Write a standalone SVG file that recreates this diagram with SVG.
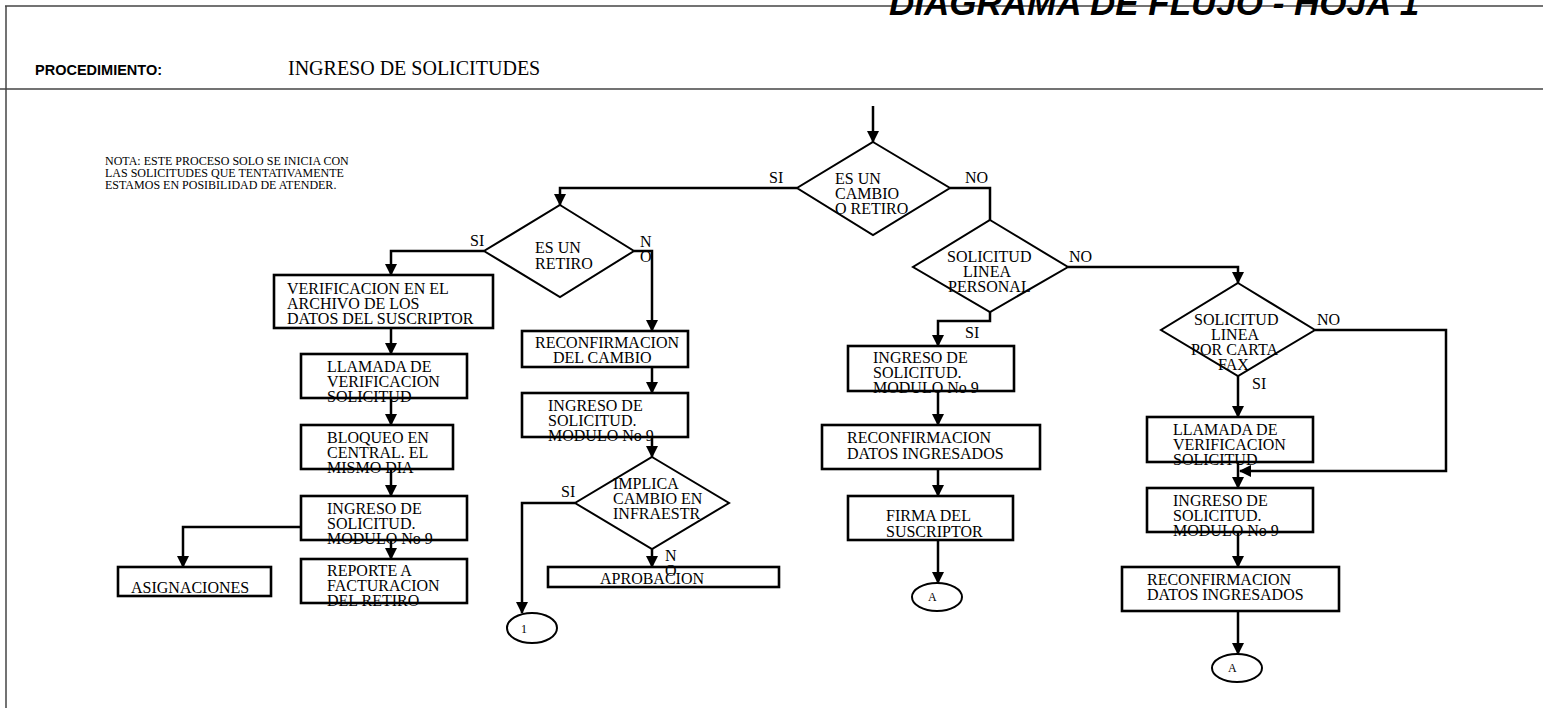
<svg xmlns="http://www.w3.org/2000/svg" width="1543" height="710" viewBox="0 0 1543 710">
  <defs>
    <marker id="arrow" markerUnits="userSpaceOnUse" markerWidth="12" markerHeight="12" viewBox="0 0 12 12" refX="11" refY="6" orient="auto">
      <path d="M0,0 L12,6 L0,12 z" fill="#000"/>
    </marker>
    <style>
      .frame { stroke: #444; stroke-width: 1.5; fill: none; }
      .box { fill: none; stroke: #000; stroke-width: 2.6; }
      .dia { fill: none; stroke: #000; stroke-width: 2; }
      .conn { fill: none; stroke: #000; stroke-width: 2.5; }
      .arr { marker-end: url(#arrow); }
      .t { font-family: "Liberation Serif", "Times New Roman", serif; font-size: 16px; fill: #000; }
      .note { font-family: "Liberation Serif", "Times New Roman", serif; font-size: 12px; fill: #000; }
      .small { font-family: "Liberation Serif", "Times New Roman", serif; font-size: 12px; fill: #000; }
    </style>
  </defs>

  <!-- page frame and header -->
  <g id="header">
    <line class="frame" x1="5" y1="6" x2="1543" y2="6"/>
    <line class="frame" x1="6" y1="6" x2="6" y2="708"/>
    <line class="frame" x1="0" y1="89" x2="1543" y2="89"/>
    <text x="889" y="15" font-family="'Liberation Sans', Arial, sans-serif" font-size="35" font-weight="bold" font-style="italic">DIAGRAMA DE FLUJO - HOJA 1</text>
    <text x="35" y="75" font-family="'Liberation Sans', Arial, sans-serif" font-size="14.5" font-weight="bold">PROCEDIMIENTO:</text>
    <text x="288" y="75" font-family="'Liberation Serif', 'Times New Roman', serif" font-size="20">INGRESO DE SOLICITUDES</text>
  </g>

  <g id="nota">
    <text class="note" x="105" y="165">NOTA: ESTE PROCESO SOLO SE INICIA CON</text>
    <text class="note" x="105" y="177">LAS SOLICITUDES QUE TENTATIVAMENTE</text>
    <text class="note" x="105" y="189">ESTAMOS EN POSIBILIDAD DE ATENDER.</text>
  </g>

  <!-- connectors -->
  <g id="connectors">
    <path class="conn arr" d="M873,106 V142"/>
    <path class="conn arr" d="M797,188 H560 V205"/>
    <path class="conn" d="M950,188 H990 V220"/>
    <path class="conn arr" d="M484,251 H391 V275"/>
    <path class="conn arr" d="M634,251 H652 V331"/>
    <path class="conn arr" d="M391,328 V354"/>
    <path class="conn arr" d="M391,398 V425"/>
    <path class="conn arr" d="M391,469 V496"/>
    <path class="conn arr" d="M301,527 H183 V567"/>
    <path class="conn arr" d="M391,540 V559"/>
    <path class="conn arr" d="M652,367 V393"/>
    <path class="conn arr" d="M652,437 V457"/>
    <path class="conn arr" d="M575,503 H522 V613"/>
    <path class="conn arr" d="M652,549 V567"/>
    <path class="conn arr" d="M1068,267 H1238 V283"/>
    <path class="conn arr" d="M990,312 V321 H938 V346"/>
    <path class="conn arr" d="M938,391 V425"/>
    <path class="conn arr" d="M938,469 V496"/>
    <path class="conn arr" d="M938,540 V583"/>
    <path class="conn arr" d="M1315,330 H1446 V471 H1240"/>
    <path class="conn arr" d="M1238,376 V417"/>
    <path class="conn arr" d="M1238,462 V488"/>
    <path class="conn arr" d="M1238,532 V567"/>
    <path class="conn arr" d="M1238,611 V654"/>
    <!-- branch labels -->
    <text class="t" x="769" y="183">SI</text>
    <text class="t" x="965" y="183">NO</text>
    <text class="t" x="470" y="246">SI</text>
    <text class="t" x="640" y="247">N</text>
    <text class="t" x="640" y="262">O</text>
    <text class="t" x="561" y="497">SI</text>
    <text class="t" x="665" y="561">N</text>
    <text class="t" x="665" y="576">O</text>
    <text class="t" x="1069" y="262">NO</text>
    <text class="t" x="965" y="338">SI</text>
    <text class="t" x="1317" y="325">NO</text>
    <text class="t" x="1252" y="389">SI</text>
  </g>

  <!-- decisions -->
  <g id="d-cambio-retiro">
    <polygon class="dia" points="873,142 950,188 873,235 797,188"/>
    <text class="t" x="835" y="184">ES UN</text>
    <text class="t" x="835" y="199">CAMBIO</text>
    <text class="t" x="835" y="214">O RETIRO</text>
  </g>
  <g id="d-retiro">
    <polygon class="dia" points="560,205 634,251 560,297 484,251"/>
    <text class="t" x="535" y="253">ES UN</text>
    <text class="t" x="535" y="269">RETIRO</text>
  </g>
  <g id="d-infraestr">
    <polygon class="dia" points="652,457 729,503 652,549 575,503"/>
    <text class="t" x="613" y="489">IMPLICA</text>
    <text class="t" x="613" y="504">CAMBIO EN</text>
    <text class="t" x="613" y="519">INFRAESTR</text>
  </g>
  <g id="d-personal">
    <polygon class="dia" points="990,220 1068,267 990,312 913,267"/>
    <text class="t" x="947" y="262">SOLICITUD</text>
    <text class="t" x="963" y="277">LINEA</text>
    <text class="t" x="948" y="292">PERSONAL</text>
  </g>
  <g id="d-carta-fax">
    <polygon class="dia" points="1238,283 1315,330 1238,376 1161,330"/>
    <text class="t" x="1194" y="325">SOLICITUD</text>
    <text class="t" x="1211" y="340">LINEA</text>
    <text class="t" x="1191" y="355">POR CARTA</text>
    <text class="t" x="1218" y="370">FAX</text>
  </g>

  <!-- retiro branch -->
  <g id="p-verificacion-archivo">
    <rect class="box" x="274" y="275" width="219" height="53"/>
    <text class="t" x="287" y="294">VERIFICACION EN EL</text>
    <text class="t" x="287" y="309">ARCHIVO DE LOS</text>
    <text class="t" x="287" y="324">DATOS DEL SUSCRIPTOR</text>
  </g>
  <g id="p-llamada-1">
    <rect class="box" x="301" y="354" width="166" height="44"/>
    <text class="t" x="327" y="372">LLAMADA DE</text>
    <text class="t" x="327" y="387">VERIFICACION</text>
    <text class="t" x="327" y="402">SOLICITUD</text>
  </g>
  <g id="p-bloqueo">
    <rect class="box" x="301" y="425" width="152" height="44"/>
    <text class="t" x="327" y="443">BLOQUEO EN</text>
    <text class="t" x="327" y="458">CENTRAL. EL</text>
    <text class="t" x="327" y="473">MISMO DIA</text>
  </g>
  <g id="p-ingreso-1">
    <rect class="box" x="301" y="496" width="166" height="44"/>
    <text class="t" x="327" y="514">INGRESO DE</text>
    <text class="t" x="327" y="529">SOLICITUD.</text>
    <text class="t" x="327" y="544">MODULO No 9</text>
  </g>
  <g id="p-asignaciones">
    <rect class="box" x="118" y="567" width="153" height="29"/>
    <text class="t" x="131" y="593">ASIGNACIONES</text>
  </g>
  <g id="p-reporte">
    <rect class="box" x="301" y="559" width="166" height="44"/>
    <text class="t" x="327" y="576">REPORTE A</text>
    <text class="t" x="327" y="591">FACTURACION</text>
    <text class="t" x="327" y="606">DEL RETIRO</text>
  </g>

  <!-- cambio branch -->
  <g id="p-reconf-cambio">
    <rect class="box" x="522" y="331" width="166" height="36"/>
    <text class="t" x="535" y="348">RECONFIRMACION</text>
    <text class="t" x="553" y="363">DEL CAMBIO</text>
  </g>
  <g id="p-ingreso-2">
    <rect class="box" x="522" y="393" width="166" height="44"/>
    <text class="t" x="548" y="411">INGRESO DE</text>
    <text class="t" x="548" y="426">SOLICITUD.</text>
    <text class="t" x="548" y="441">MODULO No 9</text>
  </g>
  <g id="p-aprobacion">
    <rect class="box" x="548" y="567" width="231" height="20"/>
    <text class="t" x="600" y="584">APROBACION</text>
  </g>
  <g id="c-1">
    <ellipse class="dia" cx="532" cy="628" rx="25" ry="15"/>
    <text class="small" x="521" y="633">1</text>
  </g>

  <!-- linea personal branch -->
  <g id="p-ingreso-3">
    <rect class="box" x="848" y="346" width="166" height="45"/>
    <text class="t" x="873" y="363">INGRESO DE</text>
    <text class="t" x="873" y="378">SOLICITUD.</text>
    <text class="t" x="873" y="393">MODULO No 9</text>
  </g>
  <g id="p-reconf-datos-1">
    <rect class="box" x="822" y="425" width="218" height="44"/>
    <text class="t" x="847" y="443">RECONFIRMACION</text>
    <text class="t" x="847" y="459">DATOS INGRESADOS</text>
  </g>
  <g id="p-firma">
    <rect class="box" x="848" y="496" width="165" height="44"/>
    <text class="t" x="886" y="521">FIRMA DEL</text>
    <text class="t" x="886" y="537">SUSCRIPTOR</text>
  </g>
  <g id="c-a-1">
    <ellipse class="dia" cx="937" cy="597" rx="25" ry="14"/>
    <text class="small" x="928" y="601">A</text>
  </g>

  <!-- carta / fax branch -->
  <g id="p-llamada-2">
    <rect class="box" x="1147" y="417" width="166" height="45"/>
    <text class="t" x="1173" y="435">LLAMADA DE</text>
    <text class="t" x="1173" y="450">VERIFICACION</text>
    <text class="t" x="1173" y="465">SOLICITUD</text>
  </g>
  <g id="p-ingreso-4">
    <rect class="box" x="1147" y="488" width="166" height="44"/>
    <text class="t" x="1173" y="506">INGRESO DE</text>
    <text class="t" x="1173" y="521">SOLICITUD.</text>
    <text class="t" x="1173" y="536">MODULO No 9</text>
  </g>
  <g id="p-reconf-datos-2">
    <rect class="box" x="1122" y="567" width="217" height="44"/>
    <text class="t" x="1147" y="585">RECONFIRMACION</text>
    <text class="t" x="1147" y="600">DATOS INGRESADOS</text>
  </g>
  <g id="c-a-2">
    <ellipse class="dia" cx="1237" cy="668" rx="25" ry="14"/>
    <text class="small" x="1228" y="672">A</text>
  </g>
</svg>
